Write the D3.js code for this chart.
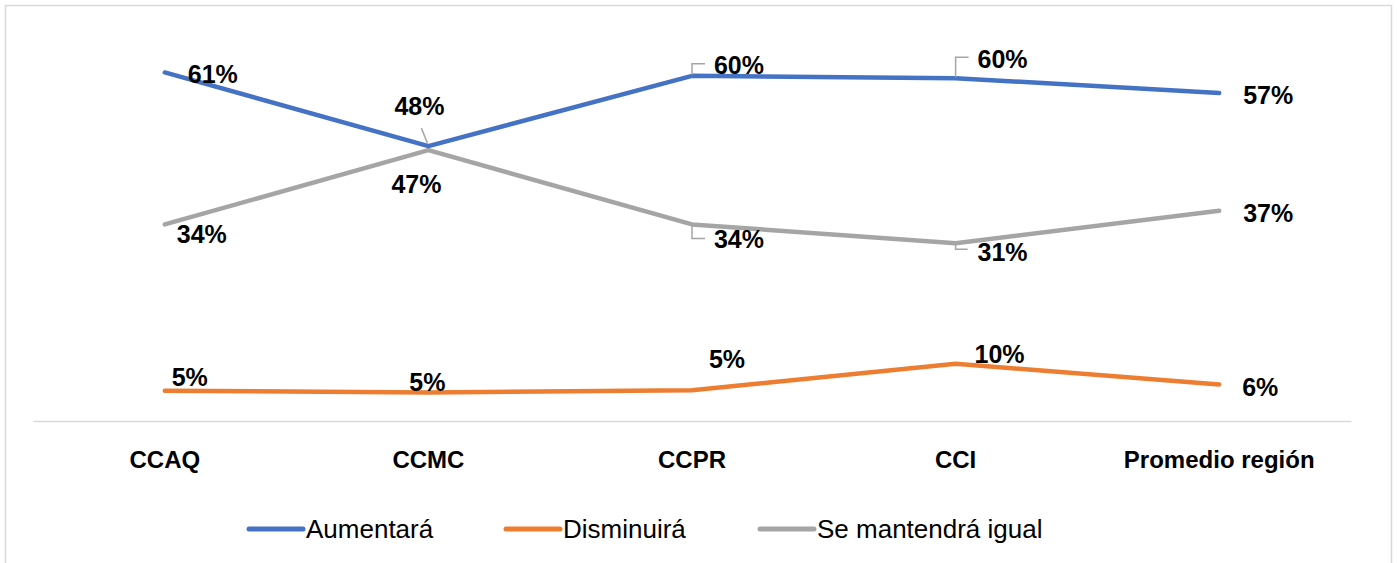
<!DOCTYPE html>
<html>
<head>
<meta charset="utf-8">
<script src="https://cdn.jsdelivr.net/npm/d3@7"></script>
<style>
  body { margin: 0; background: #fff; }
  svg { display: block; font-family: "Liberation Sans", Arial, sans-serif; }
</style>
</head>
<body>
<div id="chart"></div>
<script>
// Data
var categories = ["CCAQ", "CCMC", "CCPR", "CCI", "Promedio región"];
var seriesNames = ["Aumentará", "Disminuirá", "Se mantendrá igual"];
var aumentara = [0.610, 0.481, 0.604, 0.600, 0.574];
var disminuira = [0.053, 0.050, 0.054, 0.100, 0.064];
var mantendra = [0.344, 0.474, 0.344, 0.311, 0.368];
var colors = ["#4472C4", "#ED7D31", "#A5A5A5"];

// label offsets (px) from each point, per series
var labelOffsets = [
  [[48, 2], [-9, -40], [47, -11], [47, -19], [49, 2]],
  [[25, -14], [-1, -10], [35, -31], [44, -10], [41, 3]],
  [[37, 10], [-12, 34], [47, 15], [47, 9], [49, 2]]
];

var W = 1397, H = 563;
var margin = {top: 21, left: 33, right: 46, bottom: 142};
var width = W - margin.left - margin.right,
    height = H - margin.top - margin.bottom;

var svg = d3.select("#chart").append("svg")
    .attr("width", W)
    .attr("height", H);

// chart frame
svg.append("rect")
    .attr("x", 5.5).attr("y", 5.5)
    .attr("width", 1386).attr("height", 570)
    .attr("fill", "none")
    .attr("stroke", "#D9D9D9")
    .attr("stroke-width", 1.5);

var g = svg.append("g")
    .attr("transform", "translate(" + margin.left + "," + margin.top + ")");

var x = d3.scaleBand()
    .domain(categories)
    .range([0, width]);

var y = d3.scaleLinear()
    .domain([0, 0.7])
    .range([height, 0]);

var px = function(i) { return x(categories[i]) + x.bandwidth() / 2; };

// x axis
var xAxis = g.append("g")
    .attr("transform", "translate(0," + height + ")")
    .call(d3.axisBottom(x).tickSize(0).tickPadding(30));
xAxis.select(".domain").attr("stroke", "#D9D9D9").attr("stroke-width", 1.5);
xAxis.selectAll("text")
    .attr("font-family", "'Liberation Sans', Arial, sans-serif")
    .attr("font-size", 24)
    .attr("font-weight", "bold")
    .attr("fill", "#000");

var series = [aumentara, disminuira, mantendra];

var line = d3.line()
    .x(function(d, i) { return px(i); })
    .y(function(d) { return y(d); });

// draw order: orange, gray, blue on top
[1, 2, 0].forEach(function(s) {
  g.append("path")
      .datum(series[s])
      .attr("fill", "none")
      .attr("stroke", colors[s])
      .attr("stroke-width", 4.5)
      .attr("stroke-linecap", "round")
      .attr("stroke-linejoin", "round")
      .attr("d", line);
});

// leader lines (Excel-style) for moved labels
var leaders = [
  [0, 1, function(p) { return [[p[0] - 7, p[1] - 18], [p[0] - 1, p[1] - 3]]; }],
  [0, 2, function(p) { return [[p[0], p[1] - 1], [p[0], p[1] - 12], [p[0] + 13, p[1] - 12]]; }],
  [0, 3, function(p) { return [[p[0], p[1] - 1], [p[0], p[1] - 21], [p[0] + 13, p[1] - 21]]; }],
  [2, 2, function(p) { return [[p[0], p[1] + 1], [p[0], p[1] + 14], [p[0] + 13, p[1] + 14]]; }],
  [2, 3, function(p) { return [[p[0], p[1] + 1], [p[0], p[1] + 6], [p[0] + 12, p[1] + 6]]; }]
];
leaders.forEach(function(l) {
  var p = [px(l[1]), y(series[l[0]][l[1]])];
  g.append("path")
      .attr("d", d3.line()(l[2](p)))
      .attr("fill", "none")
      .attr("stroke", "#A5A5A5")
      .attr("stroke-width", 1.5);
});

// data labels
series.forEach(function(vals, s) {
  g.append("g").selectAll("text")
    .data(vals)
    .enter().append("text")
      .attr("x", function(d, i) { return px(i) + labelOffsets[s][i][0]; })
      .attr("y", function(d, i) { return y(d) + labelOffsets[s][i][1]; })
      .attr("dy", "0.36em")
      .attr("text-anchor", "middle")
      .attr("font-size", 25)
      .attr("font-weight", "bold")
      .attr("fill", "#000")
      .text(function(d) { return d3.format(".0%")(d); });
});

// legend
var legendX = [249, 506, 760];
var legend = svg.append("g")
    .selectAll("g")
    .data(seriesNames)
    .enter().append("g")
      .attr("transform", function(d, i) { return "translate(" + legendX[i] + ",529)"; });

legend.append("line")
    .attr("x1", 0).attr("x2", 54)
    .attr("y1", 0).attr("y2", 0)
    .attr("stroke", function(d, i) { return colors[i]; })
    .attr("stroke-width", 5)
    .attr("stroke-linecap", "round");

legend.append("text")
    .attr("x", 57)
    .attr("y", 0)
    .attr("dy", "0.36em")
    .attr("font-size", 26)
    .attr("fill", "#000")
    .text(function(d) { return d; });
</script>
</body>
</html>
